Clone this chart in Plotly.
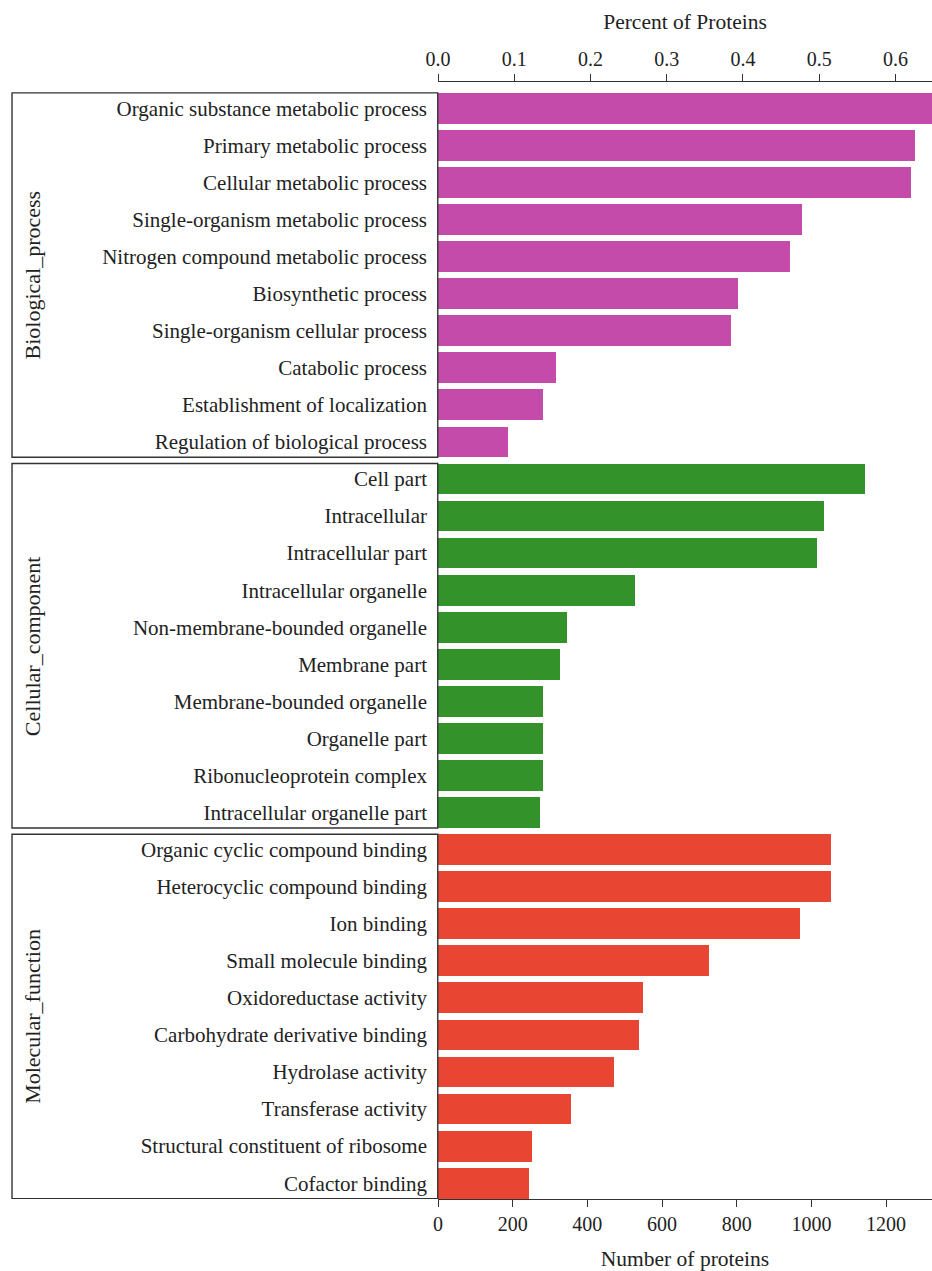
import plotly.graph_objects as go

# GO categories, top to bottom
bp_terms = [
    "Organic substance metabolic process",
    "Primary metabolic process",
    "Cellular metabolic process",
    "Single-organism metabolic process",
    "Nitrogen compound metabolic process",
    "Biosynthetic process",
    "Single-organism cellular process",
    "Catabolic process",
    "Establishment of localization",
    "Regulation of biological process",
]
bp_counts = [1330, 1277, 1266, 975, 944, 803, 786, 315, 280, 187]

cc_terms = [
    "Cell part",
    "Intracellular",
    "Intracellular part",
    "Intracellular organelle",
    "Non-membrane-bounded organelle",
    "Membrane part",
    "Membrane-bounded organelle",
    "Organelle part",
    "Ribonucleoprotein complex",
    "Intracellular organelle part",
]
cc_counts = [1143, 1033, 1014, 527, 345, 326, 280, 280, 280, 272]

mf_terms = [
    "Organic cyclic compound binding",
    "Heterocyclic compound binding",
    "Ion binding",
    "Small molecule binding",
    "Oxidoreductase activity",
    "Carbohydrate derivative binding",
    "Hydrolase activity",
    "Transferase activity",
    "Structural constituent of ribosome",
    "Cofactor binding",
]
mf_counts = [1052, 1052, 969, 725, 548, 537, 470, 356, 251, 243]

group_names = ["Biological_process", "Cellular_component", "Molecular_function"]
group_colors = ["#C44BA9", "#33932A", "#E84533"]

count_ticks = [0, 200, 400, 600, 800, 1000, 1200]
percent_ticks = [0.0, 0.1, 0.2, 0.3, 0.4, 0.5, 0.6]
count_max = 1323
percent_max = 0.648

FONT = "Liberation Serif"
TXT = "#222222"
LINE = "#333333"

groups = [(bp_terms, bp_counts), (cc_terms, cc_counts), (mf_terms, mf_counts)]

fig = go.Figure()
all_terms = []
pos = 0
bar_w = 0.83
for (terms, counts), name, color in zip(groups, group_names, group_colors):
    idx = list(range(pos, pos + len(terms)))
    fig.add_trace(go.Bar(
        x=counts, y=idx, orientation="h", width=bar_w,
        marker=dict(color=color, line=dict(width=0)),
        name=name, showlegend=False,
    ))
    # frame around the group's labels
    fig.add_shape(type="rect", xref="paper", yref="y",
                  x0=-0.8623, x1=-0.0005,
                  y0=idx[0] - bar_w / 2, y1=idx[-1] + bar_w / 2,
                  line=dict(color=LINE, width=1.4), fillcolor="rgba(0,0,0,0)")
    fig.add_annotation(xref="paper", yref="y", x=-0.8210,
                       y=(idx[0] + idx[-1]) / 2, text=name, textangle=-90,
                       showarrow=False, xanchor="center", yanchor="middle",
                       font=dict(family=FONT, size=22, color=TXT))
    all_terms += terms
    pos += len(terms)

# helper trace so the percent axis is drawn
fig.add_trace(go.Scatter(x=[0], y=[0], xaxis="x2", mode="markers",
                         marker=dict(opacity=0), hoverinfo="skip",
                         showlegend=False))

n = len(all_terms)
fig.update_layout(
    width=932, height=1271,
    margin=dict(l=438, r=0, t=82, b=72),
    paper_bgcolor="white", plot_bgcolor="white",
    font=dict(family=FONT, size=20, color=TXT),
    bargap=0,
    xaxis=dict(
        range=[0, count_max], tickvals=count_ticks,
        ticks="outside", ticklen=7, tickwidth=1.3, tickcolor=LINE,
        showline=True, linecolor=LINE, linewidth=1.3,
        showgrid=False, zeroline=False,
        title=dict(text="Number of proteins", standoff=17,
                   font=dict(family=FONT, size=21.5, color=TXT)),
        tickfont=dict(family=FONT, size=20, color=TXT),
    ),
    xaxis2=dict(
        range=[0, percent_max], tickvals=percent_ticks,
        tickformat=".1f", overlaying="x", side="top", anchor="y",
        ticks="outside", ticklen=7, tickwidth=1.3, tickcolor=LINE,
        showline=True, linecolor=LINE, linewidth=1.3,
        showgrid=False, zeroline=False,
        title=dict(text="Percent of Proteins", standoff=12,
                   font=dict(family=FONT, size=21.5, color=TXT)),
        tickfont=dict(family=FONT, size=20, color=TXT),
    ),
    yaxis=dict(
        range=[n - 1 + 0.426, -0.709],
        tickvals=list(range(n)), ticktext=all_terms,
        ticks="", showline=False, showgrid=False, zeroline=False,
        ticklabelstandoff=10,
        tickfont=dict(family=FONT, size=21, color=TXT),
    ),
)

fig.write_html("out.html")
